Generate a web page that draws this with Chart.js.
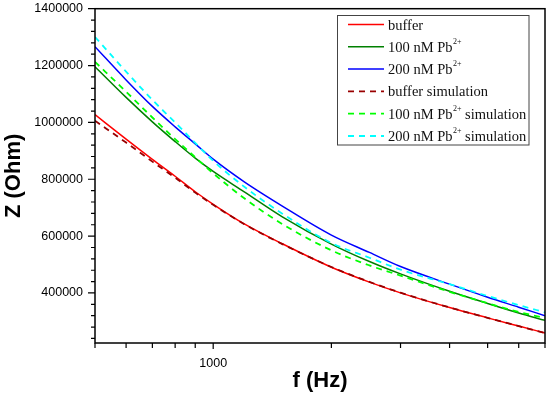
<!DOCTYPE html>
<html><head><meta charset="utf-8">
<script src="https://cdn.jsdelivr.net/npm/chart.js@4/dist/chart.umd.min.js"></script>
<style>html,body{margin:0;padding:0;background:#fff}#wrap{width:550px;height:396px}</style>
</head><body><div id="wrap"><canvas id="c" width="550" height="396"></canvas></div>
<script>
// ---- data ----
const frequencies = [500, 600, 700, 800, 900, 1000, 1200, 1500, 2000, 2500, 3000, 4000, 5000, 6000, 7000];
const buffer      = [1027500, 941000, 870000, 810500, 756000, 712000, 643000, 573000, 490600, 438200, 400300, 348600, 312400, 283600, 259400];
const pb100       = [1196000, 1088000, 1002000, 932600, 874300, 827600, 755900, 668000, 572100, 510600, 467000, 405900, 363100, 329600, 303600];
const pb200       = [1266500, 1149500, 1056300, 984300, 924600, 870800, 791000, 705700, 603700, 542600, 493000, 431000, 385000, 350000, 320000];
const bufferSim   = [1006000, 929000, 862000, 805500, 753000, 710000, 642000, 572000, 491500, 439000, 401000, 349000, 312500, 283500, 259000];
const pb100Sim    = [1213000, 1108000, 1017300, 941400, 877500, 820900, 733000, 642400, 550000, 497000, 461000, 404000, 364000, 333000, 312000];
const pb200Sim    = [1300500, 1178600, 1079200, 999800, 928000, 864800, 773500, 679000, 576000, 524000, 481800, 431000, 389400, 357400, 331800];
const seriesLabels = ['buffer', '100 nM Pb{2+}', '200 nM Pb{2+}', 'buffer simulation', '100 nM Pb{2+} simulation', '200 nM Pb{2+} simulation'];
const xTickValues = [500, 600, 700, 800, 900, 1000, 2000, 3000, 4000, 5000, 6000, 7000];
const xTickLabels = {1000: '1000'};
const yMin = 224000, yMax = 1400000, yMinorStep = 40000, yMajorStep = 200000;

const seriesValues = [buffer, pb100, pb200, bufferSim, pb100Sim, pb200Sim];
const seriesColors = ['#ff0000', '#008000', '#0000ff', '#990000', '#00ff00', '#00ffff'];
const seriesDash = [[], [], [], [6, 5], [6, 5], [6, 5]];

const datasets = seriesValues.map((vals, i) => ({
  label: seriesLabels[i],
  data: frequencies.map((f, k) => ({x: f, y: vals[k]})),
  borderColor: seriesColors[i],
  backgroundColor: seriesColors[i],
  borderDash: seriesDash[i],
  borderWidth: seriesDash[i].length ? 1.8 : 1.5,
  pointRadius: 0,
  cubicInterpolationMode: 'monotone',
  fill: false,
  order: seriesDash[i].length ? 0 : 1
}));

const framePlugin = {
  id: 'framePlugin',
  afterDraw(chart) {
    const {ctx, chartArea: a, scales: {x, y}} = chart;
    ctx.save();
    ctx.strokeStyle = '#000';
    ctx.lineWidth = 1.5;
    ctx.strokeRect(a.left, a.top, a.right - a.left, a.bottom - a.top);
    ctx.lineWidth = 1.2;
    ctx.beginPath();
    x.ticks.forEach(t => {
      const px = x.getPixelForValue(t.value);
      const len = xTickLabels[t.value] ? 6 : 5;
      ctx.moveTo(px, a.bottom); ctx.lineTo(px, a.bottom + len);
    });
    y.ticks.forEach(t => {
      const py = y.getPixelForValue(t.value);
      const len = t.value % yMajorStep === 0 ? 7 : 4;
      ctx.moveTo(a.left, py); ctx.lineTo(a.left - len, py);
    });
    ctx.stroke();

    // legend
    const bx = 337.5, by = 15.5, bw = 191.5, bh = 129.5;
    ctx.lineWidth = 1;
    ctx.strokeStyle = '#444';
    ctx.strokeRect(bx, by, bw, bh);
    const rowY0 = 24.5, rowStep = 22.3;
    chart.data.datasets.forEach((ds, i) => {
      const ly = rowY0 + i * rowStep;
      ctx.beginPath();
      ctx.strokeStyle = ds.borderColor;
      ctx.lineWidth = ds.borderWidth;
      ctx.setLineDash(ds.borderDash);
      ctx.moveTo(348, ly); ctx.lineTo(384, ly);
      ctx.stroke();
      ctx.setLineDash([]);
      const m = ds.label.match(/^([^{]*)(?:\{([^}]*)\})?(.*)$/);
      let tx = 388;
      const base = ly + 5;
      ctx.fillStyle = '#111';
      ctx.textBaseline = 'alphabetic';
      ctx.textAlign = 'left';
      ctx.font = '14.5px "Liberation Serif", serif';
      ctx.fillText(m[1], tx, base);
      tx += ctx.measureText(m[1]).width;
      if (m[2]) {
        ctx.font = '8px "Liberation Serif", serif';
        ctx.fillText(m[2], tx + 0.5, base - 8);
        tx += ctx.measureText(m[2]).width + 0.5;
      }
      if (m[3]) {
        ctx.font = '14.5px "Liberation Serif", serif';
        ctx.fillText(m[3], tx, base);
      }
    });
    ctx.restore();
  }
};

new Chart(document.getElementById('c'), {
  type: 'line',
  data: {datasets},
  plugins: [framePlugin],
  options: {
    responsive: false,
    devicePixelRatio: 1,
    animation: false,
    layout: {padding: {left: 0, right: 5, top: 8.7, bottom: 0}},
    plugins: {legend: {display: false}, tooltip: {enabled: false}},
    scales: {
      x: {
        type: 'logarithmic',
        min: 500, max: 7000,
        afterFit(s) { s.height = 53; s.paddingLeft = 0; s.paddingRight = 0; },
        afterBuildTicks(s) { s.ticks = xTickValues.map(v => ({value: v})); },
        grid: {display: false, drawTicks: false},
        border: {display: false},
        ticks: {
          autoSkip: false, maxRotation: 0, padding: 13,
          color: '#000',
          font: {family: '"Liberation Sans", Arial, sans-serif', size: 12.5},
          callback: (v) => xTickLabels[v] || ''
        },
        title: {display: true, text: 'f (Hz)', color: '#000', padding: {top: 0, bottom: 2},
          font: {family: '"Liberation Sans", Arial, sans-serif', size: 22, weight: 'bold'}}
      },
      y: {
        type: 'linear',
        min: yMin, max: yMax,
        afterFit(s) { s.width = 95; s.paddingTop = 0; s.paddingBottom = 0; },
        afterBuildTicks(s) {
          const t = [];
          for (let v = yMax; v >= yMin; v -= yMinorStep) t.push({value: v});
          s.ticks = t.reverse();
        },
        grid: {display: false, drawTicks: false},
        border: {display: false},
        ticks: {
          autoSkip: false, padding: 12,
          color: '#000',
          font: {family: '"Liberation Sans", Arial, sans-serif', size: 12.5},
          callback: (v) => (v % yMajorStep === 0 ? String(v) : '')
        },
        title: {display: true, text: 'Z (Ohm)', color: '#000', padding: {top: 1, bottom: 0},
          font: {family: '"Liberation Sans", Arial, sans-serif', size: 22, weight: 'bold'}}
      }
    }
  }
});
</script>
</body></html>
